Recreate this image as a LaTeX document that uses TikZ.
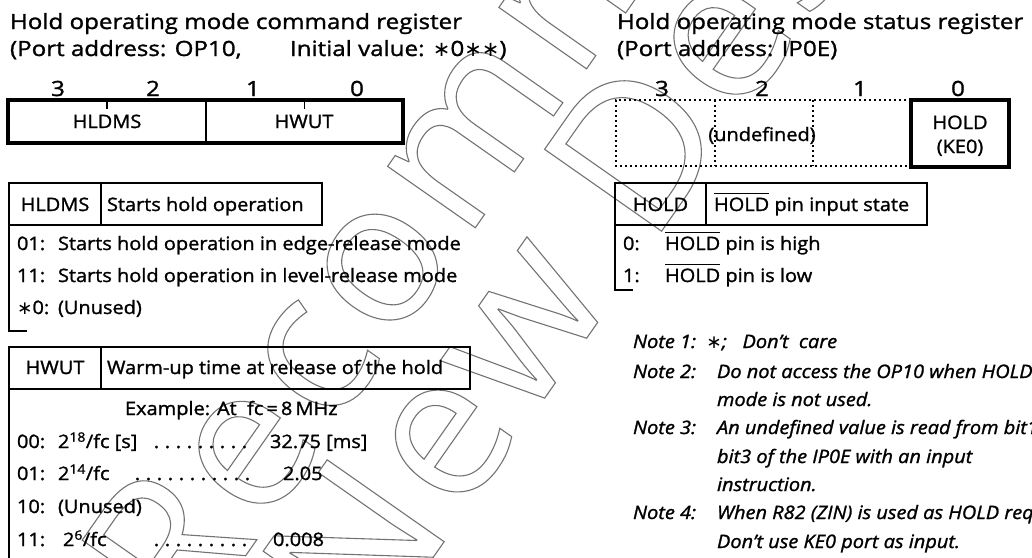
\documentclass[tikz,border=0pt]{standalone}
\usepackage{fontspec}
\setmainfont[FakeStretch=1.08,FakeBold=1.3]{Open Sans}
\newfontfamily\titlefam[FakeStretch=1.15,FakeBold=1.3]{Open Sans}
\newfontfamily\wmfam[LetterSpace=4]{Open Sans}
\newfontfamily\symfam{DejaVu Sans}
\newcommand\sast{{\symfam\char"2217}}
\newcommand\bodyf{\fontsize{18.5pt}{22pt}\selectfont}
\newcommand\titlef{\titlefam\fontsize{21pt}{25pt}\selectfont}
\newsavebox\ovlbox
\newcommand\ovl[1]{\sbox\ovlbox{#1}\rlap{\raisebox{17.5pt}{\rule{\wd\ovlbox}{1pt}}}\usebox\ovlbox}
\newcommand\dotlead[1]{\makebox[#1]{\leaders\hbox to 11pt{\hss.\hss}\hfill}}
\newcommand\outl[1]{\special{pdf:literal direct 1 Tr 1.1 w}#1\special{pdf:literal direct 0 Tr}}
\begin{document}
\begin{tikzpicture}[x=1pt,y=-1pt,
  every node/.style={inner sep=0pt,outer sep=0pt},
  txt/.style={anchor=base west,font=\bodyf},
  ctxt/.style={anchor=base,font=\bodyf},
  ttl/.style={anchor=base west,font=\titlef},
  bitno/.style={anchor=base,font=\titlef},
  note/.style={anchor=base west,font=\bodyf\itshape},
  field/.style={anchor=north west},
  frame/.style={line width=3.5pt},
  rule/.style={line width=1.6pt},
  cell/.style={draw,line width=1.6pt,anchor=north west},
  dotline/.style={line width=1.6pt,dash pattern=on 1.6pt off 3.4pt},
  wm/.style={anchor=base west,font=\wmfam\fontsize{200pt}{200pt}\selectfont,text=black!55,rotate=55}]
\useasboundingbox (0,0) rectangle (1032,557);
\clip (0,0) rectangle (1032,557);

% watermark (drawn first, outlined)
\node[wm] (wmA) at (188,638) {\outl{\llap{Not }Recommended}};
\node[wm] (wmB) at (369,649) {\outl{\llap{for }New Design}};

% ---------------- left: command register ----------------
\node[ttl] (lt1) at (10,29) {Hold operating mode command register};
\node[ttl] (lt2) at (10,56) {\makebox[280pt][l]{(Port address: OP10,}Initial value: \sast0\sast\sast)};

\node[bitno] (lb3) at (58,96) {3};
\node[bitno] (lb2) at (153,96) {2};
\node[bitno] (lb1) at (253,96) {1};
\node[bitno] (lb0) at (357,96) {0};

\node[field,minimum width=198pt,minimum height=43pt] (rHL) at (8,100) {};
\node[field,minimum width=197pt,minimum height=43pt] (rHW) at (206,100) {};
\draw[frame] (rHL.north west) rectangle (rHW.south east);
\draw[rule] (rHL.north east) -- (rHL.south east);
\draw[line width=1.2pt] (rHL.north) -- ++(0,9);
\draw[line width=1.2pt] (rHW.north) -- ++(0,9);
\node[ctxt] (rHLt) at (107,128) {HLDMS};
\node[ctxt] (rHWt) at (304,128) {HWUT};

% HLDMS table
\node[cell,minimum width=92pt,minimum height=42pt] (ha) at (9,183) {};
\node[cell,minimum width=221pt,minimum height=42pt] (hb) at (101,183) {};
\node[ctxt] (hat) at (ha.center|-0,211) {HLDMS};
\node[txt] (hbt) at (107,211) {Starts hold operation};
\draw[rule] (ha.south west) -- ++(0,106) -- ++(18,0);
\node[txt] (h1) at (17,250) {\makebox[41pt][l]{01:}Starts hold operation in edge-release mode};
\node[txt] (h2) at (17,282) {\makebox[41pt][l]{11:}Starts hold operation in level-release mode};
\node[txt] (h3) at (17,314) {\makebox[41pt][l]{\sast0:}(Unused)};

% HWUT table
\node[cell,minimum width=92pt,minimum height=42pt] (wa) at (9,347) {};
\node[cell,minimum width=369pt,minimum height=42pt] (wb) at (101,347) {};
\node[ctxt] (wat) at (wa.center|-0,374) {HWUT};
\node[txt] (wbt) at (107,374) {Warm-up time at release of the hold};
\draw[rule] (wa.south west) -- ++(0,200);
\node[txt] (wex) at (125,415) {Example: At\ \ fc\,=\,8\,MHz};
\node[txt] (w0) at (17,448) {\makebox[41pt][l]{00:}2\textsuperscript{18}/fc [s]};
\node[txt] (w0d) at (151,448) {\dotlead{99pt}};
\node[txt] (w0v) at (270,448) {32.75 [ms]};
\node[txt] (w1) at (17,480) {\makebox[41pt][l]{01:}2\textsuperscript{14}/fc};
\node[txt] (w1d) at (132,480) {\dotlead{128pt}};
\node[txt] (w1v) at (283,480) {2.05};
\node[txt] (w2) at (17,513) {\makebox[41pt][l]{10:}(Unused)};
\node[txt] (w3) at (17,546) {\makebox[46pt][l]{11:}2\textsuperscript{6}/fc};
\node[txt] (w3d) at (151,546) {\dotlead{99pt}};
\node[txt] (w3v) at (273,546) {0.008};

% ---------------- right: status register ----------------
\node[ttl] (rt1) at (617,29) {Hold operating mode status register};
\node[ttl] (rt2) at (617,56) {(Port address: IP0E)};

\node[bitno] (rb3) at (662,96) {3};
\node[bitno] (rb2) at (762,96) {2};
\node[bitno] (rb1) at (860,96) {1};
\node[bitno] (rb0) at (958,96) {0};

\node[field,minimum width=295pt,minimum height=66pt] (undef) at (616,100) {};
\draw[dotline] (undef.north east) -- (undef.north west) -- (undef.south west) -- (undef.south east);
\draw[dotline] (715,100) -- (715,166);
\draw[dotline] (813,100) -- (813,166);
\node[ctxt] (undeft) at (762,141) {(undefined)};
\node[field,draw,frame,minimum width=98pt,minimum height=67pt] (hold) at (911,100) {};
\node[ctxt] (holdt1) at (960,129) {HOLD};
\node[ctxt] (holdt2) at (960,153) {(KE0)};

% HOLD table
\node[cell,minimum width=91pt,minimum height=42pt] (sa) at (615,183) {};
\node[cell,minimum width=221pt,minimum height=42pt] (sb) at (706,183) {};
\node[ctxt] (sat) at (sa.center|-0,211) {HOLD};
\node[txt] (sbt) at (714,211) {\ovl{HOLD} pin input state};
\draw[rule] (sa.south west) -- ++(0,65) -- ++(18,0);
\node[txt] (s0) at (623,250) {\makebox[42pt][l]{0:}\ovl{HOLD} pin is high};
\node[txt] (s1) at (623,282) {\makebox[42pt][l]{1:}\ovl{HOLD} pin is low};

% notes
\node[note] (n1) at (633,348) {Note 1:\ \ \sast;\ \ \ Don’t\ \ care};
\node[note] (n2) at (633,378) {Note 2:};
\node[note] (n2a) at (717,378) {Do not access the OP10 when HOLD operating};
\node[note] (n2b) at (717,406) {mode is not used.};
\node[note] (n3) at (633,434) {Note 3:};
\node[note] (n3a) at (717,434) {An undefined value is read from bit1 to};
\node[note] (n3b) at (717,463) {bit3 of the IP0E with an input};
\node[note] (n3c) at (717,491) {instruction.};
\node[note] (n4) at (633,519) {Note 4:};
\node[note] (n4a) at (717,519) {When R82 (ZIN) is used as HOLD request,};
\node[note] (n4b) at (717,548) {Don’t use KE0 port as input.};
\end{tikzpicture}
\end{document}
